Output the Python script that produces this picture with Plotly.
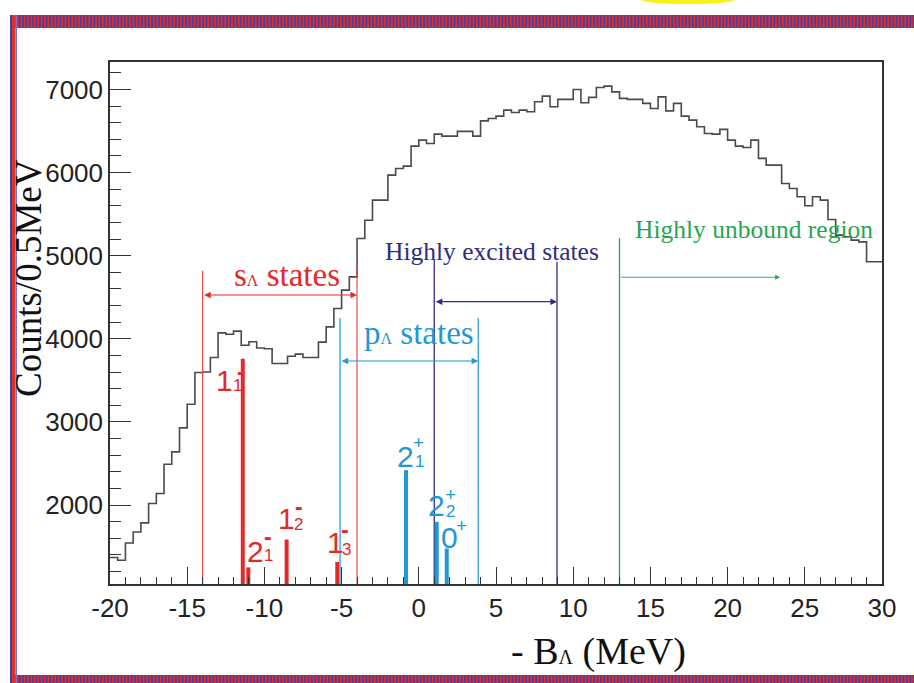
import plotly.graph_objects as go

# ---------------- data ----------------
BIN_START = -20.0
BIN_WIDTH = 0.5
COUNTS = [1368, 1336, 1544, 1676, 1785, 2018, 2138, 2491, 2639, 2928,
          3213, 3594, 3600, 3775, 4071, 4055, 4092, 3923, 3965, 3890,
          3880, 3703, 3703, 3790, 3815, 3775, 3775, 3960, 4143, 4365,
          4585, 4745, 5207, 5427, 5668, 5668, 5969, 6049, 6077, 6318,
          6390, 6350, 6462, 6438, 6438, 6495, 6495, 6438, 6622, 6651,
          6679, 6751, 6723, 6751, 6731, 6851, 6919, 6791, 6880, 6880,
          7000, 6839, 6904, 7024, 7040, 6971, 6892, 6880, 6880, 6832,
          6771, 6911, 6742, 6832, 6679, 6631, 6551, 6470, 6462, 6519,
          6390, 6318, 6302, 6390, 6170, 6089, 6089, 5869, 5809, 5708,
          5600, 5708, 5668, 5436, 5247, 5227, 5187, 5166, 4926, 4926]

# theoretical states: energy, strength (top of bar), labels
STATE_E = [-11.4, -11.04, -8.56, -5.28, -0.83, 1.16, 1.81]
STATE_TOP = [3760, 1250, 1585, 1316, 2419, 1797, 1477]
STATE_MAIN = ["1", "2", "1", "1", "2", "2", "0"]
STATE_SUB = ["1", "1", "2", "3", "1", "2", ""]
STATE_SUP = ["-", "-", "-", "-", "+", "+", "+"]
STATE_KIND = ["s", "s", "s", "s", "p", "p", "p"]

# region boundary lines
S_LINES_X = [-14.0, -4.0]
S_LINES_TOP = [4819, 4888]
P_LINES_X = [-5.1, 3.85]
P_LINES_TOP = [4246, 4246]
EXC_LINES_X = [1.0, 8.95]
EXC_LINES_TOP = [4948, 4927]
UNB_LINE_X = [13.0]
UNB_LINE_TOP = [5209]

# arrows (x_from, x_to, y)
S_ARROW = (-14.0, -4.0, 4527)
P_ARROW = (-5.1, 3.85, 3733)
EXC_ARROW = (1.0, 8.95, 4446)
UNB_ARROW = (13.0, 23.4, 4740)

X_TICKS = [-20, -15, -10, -5, 0, 5, 10, 15, 20, 25, 30]
X_TICKTEXT = ["-20", "-15", "-10", "-5", "0", "5", "10", "15", "20", "25", "30"]
Y_TICKS = [2000, 3000, 4000, 5000, 6000, 7000]
Y_TICKTEXT = ["2000", "3000", "4000", "5000", "6000", "7000"]

X_RANGE = [-20, 30]
Y_RANGE = [1050, 7330]

# ---------------- style ----------------
W, H = 914, 683
ML, MR, MT, MB = 110, 32, 62, 99
PW, PH = W - ML - MR, H - MT - MB

SERIF = "Liberation Serif, Times New Roman, serif"
SANS = "Liberation Sans, Arial, sans-serif"
RED = "#e22a2a"
RED_THIN = "#e84a44"
CYAN = "#1f98d6"
NAVY = "#302c7f"
GREEN = "#27a64f"
HIST = "#4a4a4a"


def pxx(p):
    return (p - ML) / PW


def pxy(p):
    return (H - MB - p) / PH


fig = go.Figure()

# histogram
edges = [BIN_START + i * BIN_WIDTH for i in range(len(COUNTS) + 1)]
fig.add_trace(go.Scatter(x=edges, y=COUNTS + [COUNTS[-1]], mode="lines",
                         line=dict(color=HIST, width=1.6, shape="hv"),
                         hoverinfo="skip", showlegend=False))


def vlines(xs, tops, color, width):
    X, Y = [], []
    for x, t in zip(xs, tops):
        X += [x, x, None]
        Y += [Y_RANGE[0], t, None]
    fig.add_trace(go.Scatter(x=X, y=Y, mode="lines",
                             line=dict(color=color, width=width),
                             hoverinfo="skip", showlegend=False))


vlines(S_LINES_X, S_LINES_TOP, RED_THIN, 1.2)
vlines(P_LINES_X, P_LINES_TOP, CYAN, 1.2)
vlines(EXC_LINES_X, EXC_LINES_TOP, NAVY, 1.3)
vlines(UNB_LINE_X, UNB_LINE_TOP, GREEN, 1.3)

s_idx = [i for i, k in enumerate(STATE_KIND) if k == "s"]
p_idx = [i for i, k in enumerate(STATE_KIND) if k == "p"]
vlines([STATE_E[i] for i in s_idx], [STATE_TOP[i] for i in s_idx], RED, 4)
vlines([STATE_E[i] for i in p_idx], [STATE_TOP[i] for i in p_idx], CYAN, 4)

annotations = []


def arrow(a, color, side, width=1.2):
    x0, x1, y = a
    annotations.append(dict(x=x1, y=y, ax=x0, ay=y, xref="x", yref="y",
                            axref="x", ayref="y", text="", showarrow=True,
                            arrowhead=2, arrowsize=1.1, arrowwidth=width,
                            arrowcolor=color, arrowside=side,
                            standoff=0, startstandoff=0))


arrow(S_ARROW, RED, "end+start")
arrow(P_ARROW, CYAN, "end+start")
arrow(EXC_ARROW, NAVY, "end+start")
arrow(UNB_ARROW, GREEN, "end", 0.9)

# state labels (main, sup, sub) with pixel offsets from bar tops
SHIFTS = [
    ((-18, -22), (-2, -13), (-5, -27)),
    ((7, 16), (20, 30), (20, 12)),
    ((0, 21), (12, 33), (12, 15)),
    ((-2, 19), (8, 32), (9, 12)),
    ((0, 14), (13, 28), (14, 9)),
    ((0, 16), (14, 27), (14, 10)),
    ((3, 11), (15, 23), (0, 0)),
]
for i in range(len(STATE_E)):
    col = RED if STATE_KIND[i] == "s" else CYAN
    (mx, my), (sx, sy), (bx, by) = SHIFTS[i]
    sup = STATE_SUP[i]
    sup_txt = "<b>-</b>" if sup == "-" else sup
    sup_size = 23 if sup == "-" else 19
    for txt, (dx, dy), size in ((STATE_MAIN[i], (mx, my), 30),
                                (sup_txt, (sx, sy), sup_size),
                                (STATE_SUB[i], (bx, by), 17)):
        if not txt:
            continue
        annotations.append(dict(x=STATE_E[i], y=STATE_TOP[i], xref="x", yref="y",
                                text=txt, showarrow=False, xshift=dx, yshift=dy,
                                xanchor="center", yanchor="middle",
                                font=dict(family=SANS, size=size, color=col)))

# region texts
annotations.append(dict(x=-8.55, y=4767, xref="x", yref="y", showarrow=False,
                        xanchor="center", yanchor="middle",
                        text="s<span style='font-size:16px'>Λ</span> states",
                        font=dict(family=SERIF, size=33, color=RED)))
annotations.append(dict(x=0.0, y=4070, xref="x", yref="y", showarrow=False,
                        xanchor="center", yanchor="middle",
                        text="p<span style='font-size:16px'>Λ</span> states",
                        font=dict(family=SERIF, size=33, color=CYAN)))
annotations.append(dict(x=4.77, y=5045, xref="x", yref="y", showarrow=False,
                        xanchor="center", yanchor="middle",
                        text="Highly excited states",
                        font=dict(family=SERIF, size=25.5, color=NAVY)))
annotations.append(dict(x=21.7, y=5315, xref="x", yref="y", showarrow=False,
                        xanchor="center", yanchor="middle",
                        text="Highly unbound region",
                        font=dict(family=SERIF, size=25.5, color=GREEN)))

# axis titles
annotations.append(dict(x=pxx(28), y=pxy(278), xref="paper", yref="paper",
                        xanchor="center", yanchor="middle",
                        showarrow=False, textangle=-90,
                        text="Counts/0.5MeV",
                        font=dict(family=SERIF, size=37, color="#111")))
annotations.append(dict(x=pxx(598), y=pxy(651), xref="paper", yref="paper",
                        xanchor="center", yanchor="middle",
                        showarrow=False,
                        text="- B<span style='font-size:20px'>Λ</span> (MeV)",
                        font=dict(family=SERIF, size=38, color="#111")))

# decorative frame
shapes = []
BLUE_B = "#4b3d9c"
RED_B = "#e0302a"


def band(y0, y1):
    shapes.append(dict(type="rect", xref="paper", yref="paper",
                       x0=pxx(10), x1=pxx(W + 2), y0=pxy(y0), y1=pxy(y1),
                       fillcolor=BLUE_B, line=dict(width=0), layer="above"))
    path = ""
    xp = 11.0
    while xp < W + 2:
        path += "M%.5f,%.5f L%.5f,%.5f " % (pxx(xp), pxy(y0), pxx(xp), pxy(y1))
        xp += 3.4
    shapes.append(dict(type="path", xref="paper", yref="paper", path=path,
                       line=dict(color=RED_B, width=1.7), layer="above"))


band(15, 28)
band(675, H + 2)
for x0, x1, c in ((10, 12, BLUE_B), (12, 15.5, RED_B), (15.5, 17, "#7a72c8")):
    shapes.append(dict(type="rect", xref="paper", yref="paper",
                       x0=pxx(x0), x1=pxx(x1), y0=pxy(H + 2), y1=pxy(15),
                       fillcolor=c, line=dict(width=0), layer="above"))
shapes.append(dict(type="circle", xref="paper", yref="paper",
                   x0=pxx(641), x1=pxx(735), y0=pxy(4), y1=pxy(-5),
                   fillcolor="#f6f21a", line=dict(width=0), layer="above"))

fig.update_layout(
    width=W, height=H,
    margin=dict(l=ML, r=MR, t=MT, b=MB, pad=0),
    paper_bgcolor="white", plot_bgcolor="white",
    showlegend=False,
    annotations=annotations, shapes=shapes,
    xaxis=dict(range=X_RANGE, tickmode="array", tickvals=X_TICKS, ticktext=X_TICKTEXT,
               ticks="inside", ticklen=17, tickwidth=1.2, tickcolor="#333",
               minor=dict(tickmode="array", tickvals=list(range(-20, 31)),
                          ticks="inside", ticklen=7, tickwidth=1, tickcolor="#333"),
               showline=True, linecolor="#333", linewidth=1.5, mirror=True,
               showgrid=False, zeroline=False,
               tickfont=dict(family=SANS, size=26, color="#222")),
    yaxis=dict(range=Y_RANGE, tickmode="array", tickvals=Y_TICKS, ticktext=Y_TICKTEXT,
               ticks="inside", ticklen=21, tickwidth=1.2, tickcolor="#333",
               minor=dict(tickmode="linear", tick0=1000, dtick=200,
                          ticks="inside", ticklen=11, tickwidth=1, tickcolor="#333"),
               showline=True, linecolor="#333", linewidth=1.5, mirror=True,
               showgrid=False, zeroline=False,
               tickfont=dict(family=SANS, size=26, color="#222")),
)

fig.write_html("out.html")
